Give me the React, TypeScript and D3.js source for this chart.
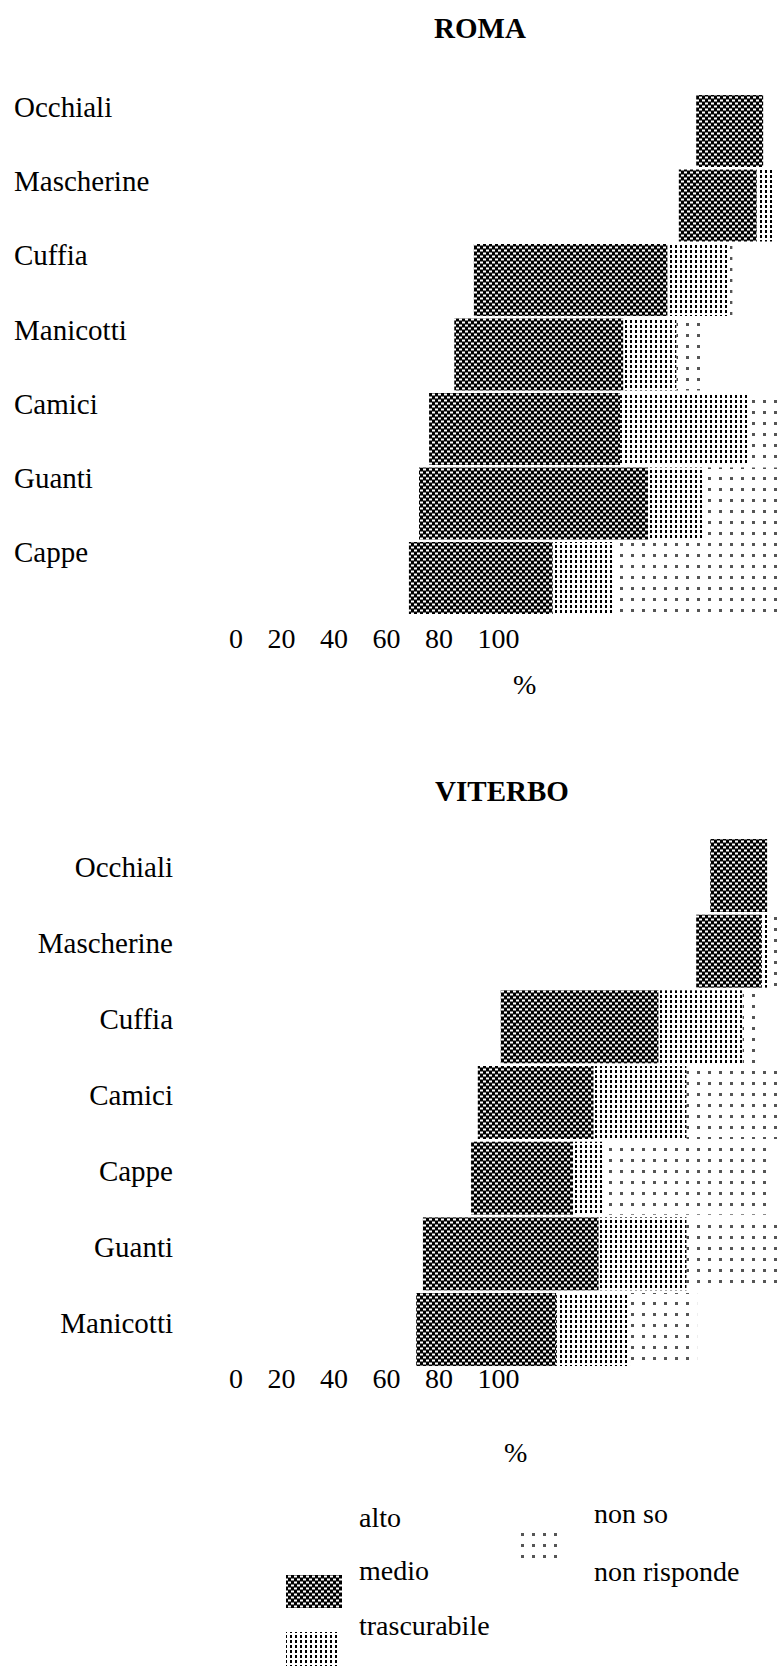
import React from 'react';
import * as d3 from 'd3';

// ---------- DATA ----------
const romaCategories = ['Occhiali', 'Mascherine', 'Cuffia', 'Manicotti', 'Camici', 'Guanti', 'Cappe'];
const romaAlto = [82.0, 78.9, 42.3, 38.8, 34.3, 32.5, 30.7];
const romaMedio = [12.0, 13.9, 34.6, 30.2, 34.1, 40.9, 25.7];
const romaTrascurabile = [0, 3.2, 10.9, 9.5, 22.7, 10.2, 10.7];
const romaNonSo = [0, 0, 0.7, 4.8, 8.9, 16.4, 32.9];
const romaNonRisponde = [6.0, 4.0, 11.5, 16.7, 0, 0, 0];

const viterboCategories = ['Occhiali', 'Mascherine', 'Cuffia', 'Camici', 'Cappe', 'Guanti', 'Manicotti'];
const viterboAlto = [84.5, 82.0, 47.1, 43.0, 41.8, 33.2, 32.0];
const viterboMedio = [10.2, 11.6, 28.2, 20.7, 18.2, 31.4, 25.0];
const viterboTrascurabile = [0, 1.6, 15.0, 16.6, 5.5, 15.7, 13.2];
const viterboNonSo = [0, 4.8, 3.0, 19.7, 30.0, 19.7, 12.0];
const viterboNonRisponde = [5.3, 0, 6.7, 0, 4.5, 0, 17.8];

const tickValues = [0, 20, 40, 60, 80, 100];
const seriesKeys = ['alto', 'medio', 'trascurabile', 'nonSo', 'nonRisponde'];
const legendLabels = ['alto', 'medio', 'trascurabile', 'non so', 'non risponde'];

// ---------- STYLE ----------
const FONT = '"Liberation Serif", "Times New Roman", serif';
const fills: Record<string, string> = {
  alto: '#ffffff',
  medio: 'url(#pMedio)',
  trascurabile: 'url(#pTrasc)',
  nonSo: 'url(#pNonSo)',
  nonRisponde: '#ffffff',
};

type PanelProps = {
  title: string;
  titleX: number;
  titleY: number;
  cats: string[];
  series: number[][];
  barTop: number;
  barStep: number;
  barH: number;
  labelX: number;
  labelAnchor: 'start' | 'end';
  labelTop: number;
  labelStep: number;
  tickX: number;
  tickY: number;
  pctX: number;
  pctY: number;
};

function Panel(p: PanelProps) {
  const rows = p.cats.map((c, i) => {
    const r: any = { cat: c };
    seriesKeys.forEach((k, j) => (r[k] = p.series[j][i]));
    return r;
  });
  const stacked = d3.stack<any>().keys(seriesKeys)(rows);
  const x = d3.scaleLinear().domain([0, 100]).range([237, 797]);
  const pad = (p.barStep - p.barH) / p.barStep;
  const start = p.barTop - (p.barStep - p.barH) / 2;
  const y = d3
    .scaleBand<string>()
    .domain(p.cats)
    .range([start, start + p.cats.length * p.barStep])
    .paddingInner(pad)
    .paddingOuter(pad / 2);
  const ly = d3
    .scalePoint<string>()
    .domain(p.cats)
    .range([p.labelTop, p.labelTop + (p.cats.length - 1) * p.labelStep]);

  // tick labels laid out as a run of text with equal gaps
  const fs = 28;
  const gap = 24.5;
  let cursor = p.tickX;
  const tickPos = tickValues.map((v) => {
    const s = String(v);
    const pos = cursor;
    cursor += s.length * fs * 0.5 + gap;
    return { s, pos };
  });

  return (
    <g>
      <text x={p.titleX} y={p.titleY} textAnchor="middle" fontFamily={FONT} fontWeight="bold" fontSize={29}>
        {p.title}
      </text>
      {stacked.map((layer) => (
        <g key={layer.key} fill={fills[layer.key]}>
          {layer.map((d, i) =>
            d[1] - d[0] > 0 ? (
              <rect
                key={i}
                x={x(d[0])}
                y={y(p.cats[i])}
                width={x(d[1]) - x(d[0])}
                height={y.bandwidth()}
              />
            ) : null
          )}
        </g>
      ))}
      {p.cats.map((c) => (
        <text key={c} x={p.labelX} y={ly(c)} textAnchor={p.labelAnchor} fontFamily={FONT} fontSize={29}>
          {c}
        </text>
      ))}
      {tickPos.map((t) => (
        <text key={t.s} x={t.pos} y={p.tickY} fontFamily={FONT} fontSize={fs}>
          {t.s}
        </text>
      ))}
      <text x={p.pctX} y={p.pctY} fontFamily={FONT} fontSize={28}>
        %
      </text>
    </g>
  );
}

export default function App() {
  const legendLayout = [
    { tx: 359, ty: 1527, sx: 286, sy: 1522, sw: 56, sh: 33 },
    { tx: 359, ty: 1580, sx: 286, sy: 1575, sw: 56, sh: 33 },
    { tx: 359, ty: 1635, sx: 286, sy: 1632, sw: 53, sh: 34 },
    { tx: 594, ty: 1523, sx: 513, sy: 1527, sw: 52, sh: 31 },
    { tx: 594, ty: 1581, sx: 513, sy: 1585, sw: 52, sh: 31 },
  ];
  return (
    <div style={{ position: 'absolute', left: 0, top: 0, width: 782, height: 1666, overflow: 'hidden', background: '#fff' }}>
      <svg width={782} height={1666} style={{ display: 'block' }}>
        <defs>
          <pattern id="pMedio" width={6} height={6} patternUnits="userSpaceOnUse">
            <rect width={6} height={6} fill="#000" />
            <rect x={3} y={0.5} width={3} height={2} fill="#fff" />
            <rect x={0} y={3.5} width={3} height={2} fill="#fff" />
          </pattern>
          <pattern id="pTrasc" width={5} height={5} patternUnits="userSpaceOnUse">
            <rect width={5} height={5} fill="#fff" />
            <rect x={0} y={0} width={2} height={3} fill="#000" />
          </pattern>
          <pattern id="pNonSo" width={11} height={11} patternUnits="userSpaceOnUse">
            <rect width={11} height={11} fill="#fff" />
            <rect x={4} y={4} width={3} height={3} fill="#555" />
          </pattern>
        </defs>
        <rect width={782} height={1666} fill="#fff" />
        <Panel
          title="ROMA"
          titleX={480}
          titleY={38}
          cats={romaCategories}
          series={[romaAlto, romaMedio, romaTrascurabile, romaNonSo, romaNonRisponde]}
          barTop={95}
          barStep={74.5}
          barH={72}
          labelX={14}
          labelAnchor="start"
          labelTop={117}
          labelStep={74.2}
          tickX={229}
          tickY={648}
          pctX={513}
          pctY={694}
        />
        <Panel
          title="VITERBO"
          titleX={502}
          titleY={801}
          cats={viterboCategories}
          series={[viterboAlto, viterboMedio, viterboTrascurabile, viterboNonSo, viterboNonRisponde]}
          barTop={839}
          barStep={75.67}
          barH={73}
          labelX={173}
          labelAnchor="end"
          labelTop={877}
          labelStep={76}
          tickX={229}
          tickY={1388}
          pctX={504}
          pctY={1462}
        />
        {legendLabels.map((l, i) => {
          const L = legendLayout[i];
          return (
            <g key={l}>
              <rect x={L.sx} y={L.sy} width={L.sw} height={L.sh} fill={fills[seriesKeys[i]]} />
              <text x={L.tx} y={L.ty} fontFamily={FONT} fontSize={28}>
                {l}
              </text>
            </g>
          );
        })}
      </svg>
    </div>
  );
}
